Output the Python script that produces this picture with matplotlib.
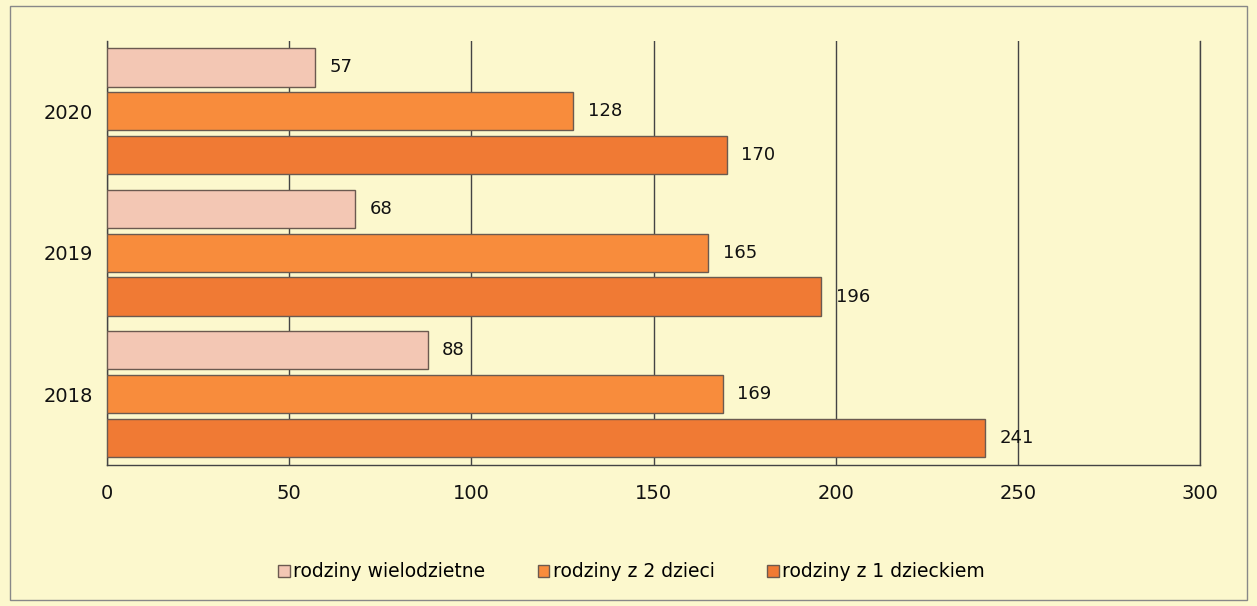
import numpy as np
import matplotlib.pyplot as plt
from matplotlib.patches import Rectangle

years = ['2018', '2019', '2020']
wielodzietne = [88, 68, 57]
z2dzieci = [169, 165, 128]
z1dzieckiem = [241, 196, 170]
labels = ['rodziny wielodzietne', 'rodziny z 2 dzieci', 'rodziny z 1 dzieckiem']
colors = ['#f3c7b4', '#f88c3c', '#f07a34']

bg = '#fcf8cd'
fig = plt.figure(figsize=(12.57, 6.06), dpi=100, facecolor=bg)
ax = fig.add_axes([0.085, 0.233, 0.87, 0.70])
ax.set_facecolor(bg)

y = np.arange(len(years))
step = 0.31
h = 0.27
series = [wielodzietne, z2dzieci, z1dzieckiem]
for i, (vals, lab, col) in enumerate(zip(series, labels, colors)):
    pos = y + step * (1 - i)
    bars = ax.barh(pos, vals, height=h, color=col, edgecolor='#6b5a50',
                   linewidth=1.0, label=lab, zorder=3)
    for b, v in zip(bars, vals):
        ax.text(v + 4, b.get_y() + b.get_height() / 2, str(v),
                va='center', ha='left', fontsize=13, color='#111111', zorder=4)

ax.set_xlim(0, 300)
ax.set_ylim(-0.5, 2.5)
ax.set_xticks(np.arange(0, 301, 50))
ax.set_yticks(y)
ax.set_yticklabels(years)
ax.tick_params(axis='both', length=0, labelsize=14, colors='#111111')
ax.tick_params(axis='x', pad=14)
ax.tick_params(axis='y', pad=10)
ax.grid(axis='x', color='#444444', linewidth=1.0, zorder=0)
ax.axvline(300, color='#444444', linewidth=1.0, zorder=0, clip_on=False)
for s in ['top', 'right']:
    ax.spines[s].set_visible(False)
for s in ['left', 'bottom']:
    ax.spines[s].set_color('#444444')
    ax.spines[s].set_linewidth(1.0)

ax.legend(loc='upper center', bbox_to_anchor=(0.48, -0.19), ncol=3, frameon=False,
          fontsize=13.5, handlelength=0.6, handleheight=0.6, handletextpad=0.2,
          columnspacing=2.8)

fig.patches.append(Rectangle((0.008, 0.01), 0.984, 0.98, transform=fig.transFigure,
                             fill=False, edgecolor='#888888', linewidth=1.0))

fig.savefig('out.png', dpi=100, facecolor=bg)
